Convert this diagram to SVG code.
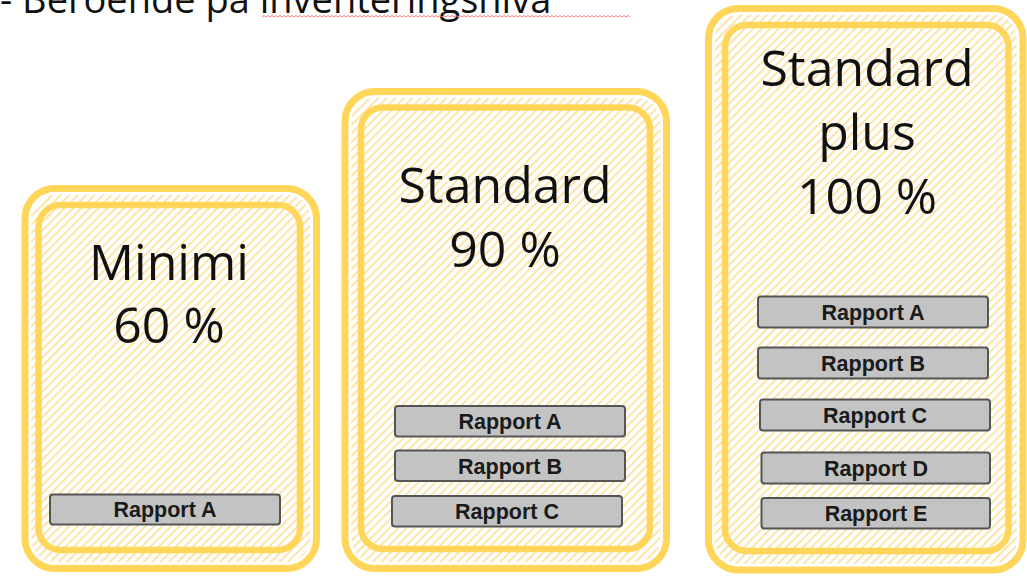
<svg xmlns="http://www.w3.org/2000/svg" width="1027" height="577" viewBox="0 0 1027 577">
<defs>
<pattern id="hatch" patternUnits="userSpaceOnUse" width="6" height="6" patternTransform="rotate(45)">
<rect width="6" height="6" fill="#ffffff"/>
<line x1="0" y1="0" x2="0" y2="6" stroke="#FCE09A" stroke-width="3.4"/>
</pattern>
<style>
.outer{fill:url(#hatch);stroke:#FFD659;stroke-width:7}
.gap{fill:none;stroke:#ffffff;stroke-width:2.5}
.inner{fill:none;stroke:#FFD659;stroke-width:6.5}
.title{font-family:"Open Sans","Noto Sans",sans-serif;font-size:50px;fill:#111;text-anchor:middle}
.rep rect{fill:#C3C3C3;stroke:#555;stroke-width:2}
.rep text{font-family:"Liberation Sans",Arial,sans-serif;font-weight:bold;font-size:21.5px;fill:#1a1a1a;text-anchor:middle}
</style>
</defs>
<rect width="1027" height="577" fill="#ffffff"/>
<g id="heading">
<text x="0" y="13" font-family="'Open Sans','Noto Sans',sans-serif" font-size="38" fill="#111">- Beroende på inventeringsnivå</text>
<path d="M262 17 l2 -1.5 l2 1.5 l2 -1.5 l2 1.5 l2 -1.5 l2 1.5 l2 -1.5 l2 1.5 l2 -1.5 l2 1.5 l2 -1.5 l2 1.5 l2 -1.5 l2 1.5 l2 -1.5 l2 1.5 l2 -1.5 l2 1.5 l2 -1.5 l2 1.5 l2 -1.5 l2 1.5 l2 -1.5 l2 1.5 l2 -1.5 l2 1.5 l2 -1.5 l2 1.5 l2 -1.5 l2 1.5 l2 -1.5 l2 1.5 l2 -1.5 l2 1.5 l2 -1.5 l2 1.5 l2 -1.5 l2 1.5 l2 -1.5 l2 1.5 l2 -1.5 l2 1.5 l2 -1.5 l2 1.5 l2 -1.5 l2 1.5 l2 -1.5 l2 1.5 l2 -1.5 l2 1.5 l2 -1.5 l2 1.5 l2 -1.5 l2 1.5 l2 -1.5 l2 1.5 l2 -1.5 l2 1.5 l2 -1.5 l2 1.5 l2 -1.5 l2 1.5 l2 -1.5 l2 1.5 l2 -1.5 l2 1.5 l2 -1.5 l2 1.5 l2 -1.5 l2 1.5 l2 -1.5 l2 1.5 l2 -1.5 l2 1.5 l2 -1.5 l2 1.5 l2 -1.5 l2 1.5 l2 -1.5 l2 1.5 l2 -1.5 l2 1.5 l2 -1.5 l2 1.5 l2 -1.5 l2 1.5 l2 -1.5 l2 1.5 l2 -1.5 l2 1.5 l2 -1.5 l2 1.5 l2 -1.5 l2 1.5 l2 -1.5 l2 1.5 l2 -1.5 l2 1.5 l2 -1.5 l2 1.5 l2 -1.5 l2 1.5 l2 -1.5 l2 1.5 l2 -1.5 l2 1.5 l2 -1.5 l2 1.5 l2 -1.5 l2 1.5 l2 -1.5 l2 1.5 l2 -1.5 l2 1.5 l2 -1.5 l2 1.5 l2 -1.5 l2 1.5 l2 -1.5 l2 1.5 l2 -1.5 l2 1.5 l2 -1.5 l2 1.5 l2 -1.5 l2 1.5 l2 -1.5 l2 1.5 l2 -1.5 l2 1.5 l2 -1.5 l2 1.5 l2 -1.5 l2 1.5 l2 -1.5 l2 1.5 l2 -1.5 l2 1.5 l2 -1.5 l2 1.5 l2 -1.5 l2 1.5 l2 -1.5 l2 1.5 l2 -1.5 l2 1.5 l2 -1.5 l2 1.5 l2 -1.5 l2 1.5 l2 -1.5 l2 1.5 l2 -1.5 l2 1.5 l2 -1.5 l2 1.5 l2 -1.5 l2 1.5 l2 -1.5 l2 1.5 l2 -1.5 l2 1.5 l2 -1.5 l2 1.5 l2 -1.5 l2 1.5 l2 -1.5 l2 1.5 l2 -1.5 l2 1.5 l2 -1.5 l2 1.5 l2 -1.5 l2 1.5 l2 -1.5 l2 1.5 l2 -1.5 l2 1.5 l2 -1.5 l2 1.5 l2 -1.5 l2 1.5 l2 -1.5 l2 1.5" fill="none" stroke="#F08080" stroke-width="1"/>
</g>
<g id="minimi">
<rect class="outer" x="25" y="188.5" width="291.5" height="380" rx="30"/>
<rect class="gap" x="30" y="193.5" width="281.5" height="370" rx="25"/>
<rect class="inner" x="38.5" y="205" width="261.5" height="345" rx="22"/>
<text class="title" x="169" y="280">Minimi</text>
<text class="title" x="169" y="343">60 %</text>
<g class="rep"><rect x="50" y="494.5" width="230" height="30" rx="3"/><text x="165" y="517">Rapport A</text></g>
</g>
<g id="standard">
<rect class="outer" x="345" y="91.5" width="321.5" height="477" rx="30"/>
<rect class="gap" x="350" y="96.5" width="311.5" height="467" rx="25"/>
<rect class="inner" x="361" y="107.5" width="289" height="441.5" rx="22"/>
<text class="title" x="505" y="203">Standard</text>
<text class="title" x="505" y="267">90 %</text>
<g class="rep"><rect x="395" y="406" width="230" height="30.5" rx="3"/><text x="510" y="429">Rapport A</text></g>
<g class="rep"><rect x="395" y="450.5" width="230" height="30.5" rx="3"/><text x="510" y="473.5">Rapport B</text></g>
<g class="rep"><rect x="392" y="496" width="230" height="30.5" rx="3"/><text x="507" y="519">Rapport C</text></g>
</g>
<g id="standard-plus">
<rect class="outer" x="708.5" y="8.5" width="314.5" height="561.5" rx="30"/>
<rect class="gap" x="713.5" y="13.5" width="304.5" height="551.5" rx="25"/>
<rect class="inner" x="725" y="25" width="283.5" height="526" rx="22"/>
<text class="title" x="867" y="86">Standard</text>
<text class="title" x="867" y="150">plus</text>
<text class="title" x="867" y="214">100 %</text>
<g class="rep"><rect x="758" y="296.5" width="230" height="31" rx="3"/><text x="873" y="319.5">Rapport A</text></g>
<g class="rep"><rect x="758" y="347.5" width="230" height="31" rx="3"/><text x="873" y="370.5">Rapport B</text></g>
<g class="rep"><rect x="760" y="399.5" width="230" height="31" rx="3"/><text x="875" y="422.5">Rapport C</text></g>
<g class="rep"><rect x="761.5" y="452.5" width="228.5" height="31" rx="3"/><text x="876" y="475.5">Rapport D</text></g>
<g class="rep"><rect x="761.5" y="498" width="228.5" height="30.5" rx="3"/><text x="876" y="521">Rapport E</text></g>
</g>
</svg>
